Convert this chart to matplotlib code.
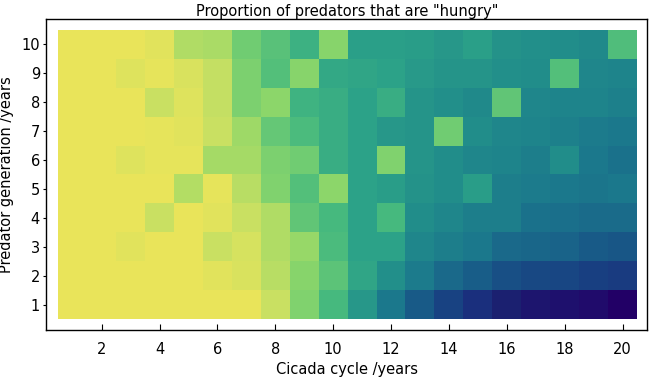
import numpy as np
import matplotlib
matplotlib.use("Agg")
import matplotlib.pyplot as plt
from matplotlib.colors import LinearSegmentedColormap

# cicada cycle (x) and predator generation (y)
cycles = np.arange(1, 21)
generations = np.arange(1, 11)

# proportion "hungry" (relative scale), rows = generation 1..10, cols = cycle 1..20
row1 = [1.0, 1.0, 1.0, 1.0, 1.0, 1.0, 1.0, 0.92, 0.78, 0.66, 0.54, 0.43, 0.33, 0.26, 0.21, 0.15, 0.11, 0.09, 0.06, 0.0]
row2 = [1.0, 1.0, 1.0, 1.0, 1.0, 0.98, 0.96, 0.88, 0.79, 0.71, 0.59, 0.51, 0.44, 0.38, 0.34, 0.30, 0.28, 0.27, 0.25, 0.24]
row3 = [1.0, 1.0, 0.98, 1.0, 1.0, 0.92, 0.95, 0.86, 0.82, 0.67, 0.58, 0.58, 0.48, 0.45, 0.43, 0.38, 0.37, 0.36, 0.33, 0.32]
row4 = [1.0, 1.0, 1.0, 0.92, 1.0, 0.98, 0.92, 0.86, 0.72, 0.66, 0.58, 0.66, 0.50, 0.48, 0.45, 0.45, 0.41, 0.40, 0.39, 0.39]
row5 = [1.0, 1.0, 1.0, 1.0, 0.87, 0.99, 0.88, 0.78, 0.69, 0.80, 0.58, 0.56, 0.52, 0.50, 0.56, 0.45, 0.44, 0.43, 0.42, 0.43]
row6 = [1.0, 1.0, 0.97, 0.99, 0.99, 0.84, 0.84, 0.77, 0.75, 0.62, 0.58, 0.78, 0.53, 0.50, 0.48, 0.47, 0.45, 0.50, 0.43, 0.41]
row7 = [1.0, 1.0, 1.0, 0.99, 0.98, 0.92, 0.83, 0.73, 0.67, 0.62, 0.58, 0.54, 0.53, 0.75, 0.50, 0.48, 0.47, 0.46, 0.44, 0.43]
row8 = [1.0, 1.0, 1.0, 0.92, 0.97, 0.91, 0.77, 0.80, 0.64, 0.62, 0.58, 0.62, 0.53, 0.51, 0.49, 0.72, 0.48, 0.47, 0.47, 0.46]
row9 = [1.0, 1.0, 0.97, 0.99, 0.96, 0.91, 0.77, 0.69, 0.79, 0.60, 0.59, 0.58, 0.55, 0.53, 0.53, 0.51, 0.50, 0.69, 0.48, 0.47]
row10 = [1.0, 1.0, 1.0, 0.98, 0.86, 0.85, 0.75, 0.70, 0.63, 0.79, 0.57, 0.57, 0.56, 0.54, 0.57, 0.52, 0.51, 0.50, 0.49, 0.68]

data = np.array([row1, row2, row3, row4, row5, row6, row7, row8, row9, row10])

# Mathematica-like density gradient
nodes = [
    (0.00, (34, 0, 102)),
    (0.10, (30, 18, 110)),
    (0.15, (27, 32, 112)),
    (0.21, (26, 48, 125)),
    (0.26, (24, 66, 130)),
    (0.33, (24, 90, 135)),
    (0.43, (27, 120, 140)),
    (0.50, (33, 140, 138)),
    (0.58, (44, 162, 136)),
    (0.66, (70, 185, 126)),
    (0.75, (110, 203, 115)),
    (0.80, (140, 214, 106)),
    (0.86, (175, 220, 101)),
    (0.92, (200, 224, 98)),
    (1.00, (233, 228, 90)),
]
cmap = LinearSegmentedColormap.from_list(
    "density", [(p, tuple(c / 255 for c in rgb)) for p, rgb in nodes])

plt.rcParams['font.family'] = ['DejaVu Sans']

fig = plt.figure(figsize=(6.5, 3.77), dpi=100)
ax = fig.add_axes([0.0712, 0.1247, 0.9246, 0.8249])

xe = np.append(cycles - 0.5, cycles[-1] + 0.5)
ye = np.append(generations - 0.5, generations[-1] + 0.5)
ax.pcolormesh(xe, ye, data, cmap=cmap, vmin=0, vmax=1)

ax.set_xlim(0.085, 20.856)
ax.set_ylim(0.12, 10.88)

ax.set_xticks(np.arange(2, 21, 2))
ax.set_yticks(generations)
ax.tick_params(axis='x', direction='in', length=4, width=0.8, labelsize=10.5, pad=9)
ax.tick_params(axis='y', direction='out', length=2.5, width=0.8, labelsize=10.5, pad=2)
for s in ax.spines.values():
    s.set_linewidth(1.0)

ax.set_title('Proportion of predators that are "hungry"', fontsize=10.5, pad=2)
ax.set_xlabel('Cicada cycle /years', fontsize=10.5, labelpad=3)
ax.set_ylabel('Predator generation /years', fontsize=10.5, labelpad=5)

fig.savefig("out.png", dpi=100)
